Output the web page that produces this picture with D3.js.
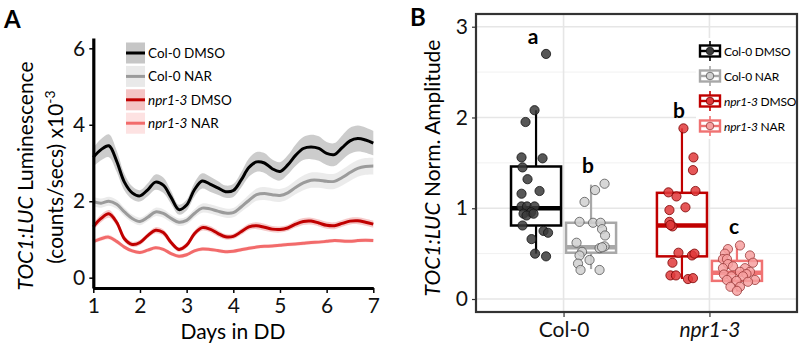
<!DOCTYPE html>
<html>
<head>
<meta charset="utf-8">
<script src="https://cdn.jsdelivr.net/npm/d3@7"></script>
<style>
  body { margin: 0; background: #fff; }
  svg text { font-family: Lato, "Open Sans", sans-serif; }
</style>
</head>
<body>
<svg id="chart" width="800" height="348"></svg>
<script>
// ---------- Panel A data: TOC1:LUC luminescence (x10^-3), sampled every 4 h ----------
const hoursInDD = [24, 28, 32, 36, 40, 44, 48, 52, 56, 60, 64, 68, 72, 76, 80, 84, 88, 92, 96,
  100, 104, 108, 112, 116, 120, 124, 128, 132, 136, 140, 144, 148, 152, 156, 160, 164, 168];

const col0Dmso = [3.15, 3.35, 3.45, 3.05, 2.50, 2.22, 2.14, 2.30, 2.50, 2.42, 2.10, 1.78, 1.90, 2.30, 2.53, 2.45, 2.35, 2.25, 2.28,
  2.55, 2.88, 3.03, 3.00, 2.85, 2.78, 2.95, 3.20, 3.38, 3.42, 3.38, 3.25, 3.22, 3.40, 3.58, 3.64, 3.60, 3.52];
const col0DmsoSe = [0.25, 0.28, 0.30, 0.28, 0.22, 0.17, 0.15, 0.17, 0.20, 0.20, 0.17, 0.13, 0.14, 0.18, 0.20, 0.20, 0.18, 0.16, 0.17,
  0.20, 0.24, 0.26, 0.26, 0.24, 0.24, 0.25, 0.28, 0.30, 0.32, 0.32, 0.30, 0.30, 0.32, 0.34, 0.34, 0.33, 0.32];

const col0Nar = [1.99, 1.95, 2.00, 1.92, 1.72, 1.55, 1.47, 1.58, 1.72, 1.68, 1.55, 1.45, 1.50, 1.68, 1.82, 1.80, 1.74, 1.69, 1.70,
  1.85, 2.02, 2.17, 2.20, 2.17, 2.15, 2.22, 2.36, 2.48, 2.55, 2.55, 2.52, 2.52, 2.62, 2.75, 2.86, 2.91, 2.92];
const col0NarSe = [0.12, 0.12, 0.12, 0.12, 0.11, 0.10, 0.10, 0.10, 0.11, 0.11, 0.10, 0.10, 0.10, 0.11, 0.12, 0.12, 0.12, 0.12, 0.12,
  0.13, 0.15, 0.16, 0.17, 0.17, 0.17, 0.17, 0.18, 0.19, 0.20, 0.20, 0.20, 0.20, 0.21, 0.22, 0.22, 0.22, 0.22];

const npr1Dmso = [1.33, 1.55, 1.67, 1.45, 1.02, 0.87, 0.92, 1.10, 1.24, 1.18, 0.92, 0.74, 0.85, 1.15, 1.31, 1.27, 1.16, 1.07, 1.08,
  1.20, 1.33, 1.36, 1.32, 1.27, 1.26, 1.30, 1.40, 1.47, 1.48, 1.43, 1.37, 1.36, 1.42, 1.48, 1.49, 1.45, 1.40];
const npr1DmsoSe = [0.09, 0.10, 0.10, 0.09, 0.08, 0.07, 0.07, 0.07, 0.08, 0.08, 0.07, 0.06, 0.07, 0.08, 0.08, 0.08, 0.08, 0.07, 0.07,
  0.08, 0.08, 0.09, 0.09, 0.08, 0.08, 0.08, 0.09, 0.09, 0.09, 0.09, 0.09, 0.09, 0.09, 0.09, 0.09, 0.09, 0.09];

const npr1Nar = [0.94, 1.02, 1.06, 0.95, 0.80, 0.70, 0.66, 0.72, 0.78, 0.74, 0.63, 0.56, 0.60, 0.70, 0.75, 0.74, 0.71, 0.68, 0.69,
  0.73, 0.77, 0.80, 0.82, 0.83, 0.85, 0.87, 0.88, 0.90, 0.92, 0.93, 0.95, 0.97, 0.96, 0.95, 0.97, 0.98, 0.97];
const npr1NarSe = [0.06, 0.06, 0.06, 0.06, 0.05, 0.05, 0.05, 0.05, 0.05, 0.05, 0.05, 0.05, 0.05, 0.05, 0.05, 0.05, 0.05, 0.05, 0.05,
  0.05, 0.05, 0.05, 0.05, 0.05, 0.05, 0.05, 0.05, 0.05, 0.05, 0.05, 0.05, 0.05, 0.05, 0.05, 0.05, 0.05, 0.05];

const dayTicks = [1, 2, 3, 4, 5, 6, 7];
const lumTicks = [0, 2, 4, 6];

// ---------- Panel B data: normalised amplitude per seedling ----------
const genotypes = ['Col-0', 'npr1-3'];
const treatments = ['DMSO', 'NAR'];
const ampTicks = [0, 1, 2, 3];

// jitter = horizontal offset, as a fraction of the box width
const col0DmsoAmp = [2.70, 2.08, 1.95, 1.56, 1.55, 1.45, 1.32, 1.16, 1.19, 1.02, 1.02, 1.02, 0.94, 0.955, 0.92, 0.94, 0.81, 0.75, 0.73, 0.66, 0.50, 0.47];
const col0DmsoJit = [0.20, -0.03, -0.21, -0.29, 0.13, -0.27, -0.17, -0.29, 0.07, -0.29, -0.18, -0.03, -0.25, -0.10, -0.19, -0.05, -0.27, 0.15, 0.24, -0.09, -0.02, 0.20];

const col0NarAmp = [1.27, 1.20, 1.07, 0.85, 0.84, 0.84, 0.77, 0.70, 0.62, 0.58, 0.56, 0.57, 0.52, 0.48, 0.43, 0.39, 0.32, 0.32];
const col0NarJit = [0.27, 0.08, -0.13, -0.23, 0.04, 0.19, 0.22, 0.28, -0.29, 0.27, 0.17, 0.22, -0.18, -0.23, -0.03, -0.26, -0.21, 0.17];

const npr1DmsoAmp = [1.88, 1.56, 1.42, 1.175, 1.13, 1.19, 0.98, 1.01, 0.85, 0.80, 0.815, 0.51, 0.48, 0.50, 0.40, 0.26, 0.26, 0.22, 0.23];
const npr1DmsoJit = [0.03, 0.23, 0.22, -0.27, -0.11, 0.27, -0.25, 0.07, -0.25, -0.19, -0.23, -0.07, 0.20, 0.25, -0.19, -0.23, -0.12, 0.12, 0.22];

const npr1NarAmp = [0.59, 0.55, 0.50, 0.48, 0.44, 0.44, 0.385, 0.40, 0.34, 0.36, 0.34, 0.30, 0.30, 0.27, 0.275, 0.25, 0.25, 0.21, 0.21, 0.20, 0.135, 0.135, 0.09, 0.19];
const npr1NarJit = [0.06, -0.18, -0.24, 0.26, -0.28, -0.20, -0.18, 0.32, -0.28, -0.08, 0.16, 0.06, 0.26, -0.26, 0.19, -0.11, 0.12, 0.36, -0.20, -0.01, -0.13, 0.06, 0.00, 0.22];

// box stats: [lower whisker, q1, median, q3, upper whisker]
const col0DmsoBox = [0.50, 0.81, 1.00, 1.46, 2.08];
const col0NarBox = [0.33, 0.51, 0.57, 0.84, 1.26];
const npr1DmsoBox = [0.22, 0.47, 0.81, 1.17, 1.88];
const npr1NarBox = [0.08, 0.20, 0.29, 0.42, 0.59];

// significance letters and the height they sit at (data units)
const sigLetters = ['a', 'b', 'b', 'c'];
const sigHeights = [2.81, 1.39, 1.99, 0.72];

// ---------- styling ----------
const seriesStyle = [
  { label: 'Col-0', treat: 'DMSO', line: '#000000', band: '#c6c6c6', box: '#000000', fill: '#3a3a3a', edge: '#111111' },
  { label: 'Col-0', treat: 'NAR', line: '#9b9b9b', band: '#e9e9e9', box: '#a8a8a8', fill: '#d0d0d0', edge: '#555555' },
  { label: 'npr1-3', treat: 'DMSO', line: '#c00000', band: '#f4c4c4', box: '#c00000', fill: '#e0393b', edge: '#7a0000' },
  { label: 'npr1-3', treat: 'NAR', line: '#f26b6b', band: '#fde2e2', box: '#f07272', fill: '#f7a0a0', edge: '#9a3a3a' }
];

const svg = d3.select('#chart');

// writes "npr1-3" in italics, the rest upright
function legendLabel(t, s) {
  if (s.label === 'npr1-3') {
    t.append('tspan').attr('font-style', 'italic').text('npr1-3');
    t.append('tspan').text(' ' + s.treat);
  } else {
    t.text(s.label + ' ' + s.treat);
  }
}

// ================= Panel A =================
function drawPanelA() {
  const days = hoursInDD.map(h => h / 24);
  const series = [
    { v: col0Dmso, se: col0DmsoSe },
    { v: col0Nar, se: col0NarSe },
    { v: npr1Dmso, se: npr1DmsoSe },
    { v: npr1Nar, se: npr1NarSe }
  ];

  const x = d3.scaleLinear().domain([1, 7]).range([93.3, 373.3]);
  const y = d3.scaleLinear().domain([-0.27, 6.27]).range([288, 38]);

  const g = svg.append('g').attr('class', 'panel-a');

  const area = d3.area()
    .x((d, i) => x(days[i]))
    .y0(d => y(d.v - d.se))
    .y1(d => y(d.v + d.se))
    .curve(d3.curveCatmullRom);

  const line = d3.line()
    .x((d, i) => x(days[i]))
    .y(d => y(d))
    .curve(d3.curveCatmullRom);

  // bands drawn bottom series first so the darker ones sit on top
  [3, 2, 1, 0].forEach(k => {
    const s = series[k];
    g.append('path')
      .datum(s.v.map((v, i) => ({ v: v, se: s.se[i] })))
      .attr('d', area)
      .attr('fill', seriesStyle[k].band)
      .attr('opacity', 0.9);
  });
  [3, 2, 1, 0].forEach(k => {
    g.append('path')
      .datum(series[k].v)
      .attr('d', line)
      .attr('fill', 'none')
      .attr('stroke', seriesStyle[k].line)
      .attr('stroke-width', 3);
  });

  // axes
  const xAxis = d3.axisBottom(x).tickValues(dayTicks).tickFormat(d3.format('d'))
    .tickSize(5).tickSizeOuter(0).tickPadding(4);
  const yAxis = d3.axisLeft(y).tickValues(lumTicks).tickFormat(d3.format('d'))
    .tickSize(4).tickSizeOuter(0).tickPadding(4);

  const xg = g.append('g').attr('transform', `translate(0,${y.range()[0]})`).call(xAxis);
  const yg = g.append('g').attr('transform', `translate(${x.range()[0]},0)`).call(yAxis);

  [xg, yg].forEach(a => {
    a.select('.domain').attr('stroke', '#000').attr('stroke-width', 3.2);
    a.selectAll('.tick line').attr('stroke', '#000').attr('stroke-width', 1.5);
    a.selectAll('.tick text').attr('font-size', 21).attr('fill', '#111');
  });
  xg.selectAll('.tick text').attr('dy', '0.75em');

  g.append('text')
    .attr('x', 233).attr('y', 339)
    .attr('text-anchor', 'middle')
    .attr('font-size', 21)
    .text('Days in DD');

  const yl1 = g.append('text')
    .attr('transform', 'translate(33,176) rotate(-90)')
    .attr('text-anchor', 'middle')
    .attr('font-size', 21);
  yl1.append('tspan').attr('font-style', 'italic').text('TOC1:LUC');
  yl1.append('tspan').text(' Luminescence');

  const yl2 = g.append('text')
    .attr('transform', 'translate(63,177) rotate(-90)')
    .attr('text-anchor', 'middle')
    .attr('font-size', 21);
  yl2.append('tspan').text('(counts/secs) x10');
  yl2.append('tspan').attr('font-size', 14).attr('dy', -8).text('-3');

  // legend
  const leg = g.append('g').attr('transform', 'translate(126,53)');
  seriesStyle.forEach((s, i) => {
    const row = leg.append('g').attr('transform', `translate(0,${i * 23.4})`);
    row.append('rect').attr('x', 0).attr('y', -10.5).attr('width', 19).attr('height', 21).attr('fill', s.band);
    row.append('line').attr('x1', 0).attr('x2', 19).attr('stroke', s.line).attr('stroke-width', 3);
    legendLabel(row.append('text').attr('x', 22).attr('y', 5).attr('font-size', 13.5), s);
  });

  g.append('text').attr('x', 4).attr('y', 28)
    .attr('font-size', 24).attr('font-weight', 'bold').text('A');
}

// ================= Panel B =================
function drawPanelB() {
  const groups = [
    { geno: 'Col-0', treat: 'DMSO', amp: col0DmsoAmp, jit: col0DmsoJit, box: col0DmsoBox },
    { geno: 'Col-0', treat: 'NAR', amp: col0NarAmp, jit: col0NarJit, box: col0NarBox },
    { geno: 'npr1-3', treat: 'DMSO', amp: npr1DmsoAmp, jit: npr1DmsoJit, box: npr1DmsoBox },
    { geno: 'npr1-3', treat: 'NAR', amp: npr1NarAmp, jit: npr1NarJit, box: npr1NarBox }
  ];

  const left = 476, right = 797, top = 14, bottom = 312;

  const x = d3.scalePoint().domain(genotypes).range([left, right]).padding(0.6);
  const dodge = d3.scaleBand().domain(treatments).range([-55, 55]);
  const boxW = dodge.bandwidth() * 0.91;
  const y = d3.scaleLinear().domain([-0.143, 3.14]).range([bottom, top]);
  const centre = grp => x(grp.geno) + dodge(grp.treat) + dodge.bandwidth() / 2;

  const g = svg.append('g').attr('class', 'panel-b');

  // grid lines
  const minor = [0.5, 1.5, 2.5];
  g.selectAll('.minor').data(minor).join('line')
    .attr('x1', left).attr('x2', right)
    .attr('y1', d => y(d)).attr('y2', d => y(d))
    .attr('stroke', '#f1f1f1').attr('stroke-width', 1);
  g.selectAll('.major').data(ampTicks).join('line')
    .attr('x1', left).attr('x2', right)
    .attr('y1', d => y(d)).attr('y2', d => y(d))
    .attr('stroke', '#e6e6e6').attr('stroke-width', 1.6);
  g.selectAll('.vgrid').data(genotypes).join('line')
    .attr('x1', d => x(d)).attr('x2', d => x(d))
    .attr('y1', top).attr('y2', bottom)
    .attr('stroke', '#e6e6e6').attr('stroke-width', 1.6);

  // boxes
  groups.forEach((grp, k) => {
    const st = seriesStyle[k];
    const cx = centre(grp);
    const [lo, q1, med, q3, hi] = grp.box;
    const bg = g.append('g');
    bg.append('line').attr('x1', cx).attr('x2', cx).attr('y1', y(q3)).attr('y2', y(hi))
      .attr('stroke', st.box).attr('stroke-width', 2.2);
    bg.append('line').attr('x1', cx).attr('x2', cx).attr('y1', y(q1)).attr('y2', y(lo))
      .attr('stroke', st.box).attr('stroke-width', 2.2);
    bg.append('rect').attr('x', cx - boxW / 2).attr('y', y(q3))
      .attr('width', boxW).attr('height', y(q1) - y(q3))
      .attr('fill', 'none').attr('stroke', st.box).attr('stroke-width', 2.5);
    bg.append('line').attr('x1', cx - boxW / 2).attr('x2', cx + boxW / 2)
      .attr('y1', y(med)).attr('y2', y(med))
      .attr('stroke', st.box).attr('stroke-width', 4.5);
  });

  // jittered points
  groups.forEach((grp, k) => {
    const st = seriesStyle[k];
    const cx = centre(grp);
    g.append('g').selectAll('circle')
      .data(grp.amp.map((v, i) => ({ v: v, j: grp.jit[i] })))
      .join('circle')
      .attr('cx', d => cx + d.j * boxW)
      .attr('cy', d => y(d.v))
      .attr('r', 4.6)
      .attr('fill', st.fill)
      .attr('fill-opacity', 0.85)
      .attr('stroke', st.edge)
      .attr('stroke-width', 0.8);
  });

  // significance letters
  groups.forEach((grp, k) => {
    g.append('text')
      .attr('x', centre(grp) - 3).attr('y', y(sigHeights[k]))
      .attr('text-anchor', 'middle')
      .attr('font-size', 21).attr('font-weight', 'bold')
      .text(sigLetters[k]);
  });

  // legend with white background
  const leg = g.append('g');
  leg.append('rect').attr('x', 696).attr('y', 38).attr('width', 100).attr('height', 101).attr('fill', '#fff');
  seriesStyle.forEach((s, i) => {
    const ry = 51 + i * 25;
    const kx = 710;
    const row = leg.append('g');
    row.append('line').attr('x1', kx).attr('x2', kx).attr('y1', ry - 10).attr('y2', ry + 10)
      .attr('stroke', s.box).attr('stroke-width', 1.6);
    row.append('rect').attr('x', kx - 10).attr('y', ry - 5.5).attr('width', 20).attr('height', 11)
      .attr('fill', '#fff').attr('stroke', s.box).attr('stroke-width', 2.4);
    row.append('line').attr('x1', kx - 10).attr('x2', kx + 10).attr('y1', ry).attr('y2', ry)
      .attr('stroke', s.box).attr('stroke-width', 2.4);
    row.append('circle').attr('cx', kx).attr('cy', ry).attr('r', 3.8)
      .attr('fill', s.fill).attr('stroke', s.edge).attr('stroke-width', 0.8);
    legendLabel(row.append('text').attr('x', 724).attr('y', ry + 4.5)
      .attr('font-size', 12).attr('letter-spacing', -0.2), s);
  });

  // panel border
  g.append('rect').attr('x', left).attr('y', top)
    .attr('width', right - left).attr('height', bottom - top)
    .attr('fill', 'none').attr('stroke', '#333').attr('stroke-width', 2.2);

  // axes
  const yAxis = d3.axisLeft(y).tickValues(ampTicks).tickFormat(d3.format('d')).tickSize(4).tickPadding(4);
  const xAxis = d3.axisBottom(x).tickSize(5).tickPadding(4);
  const yg = g.append('g').attr('transform', `translate(${left},0)`).call(yAxis);
  const xg = g.append('g').attr('transform', `translate(0,${bottom})`).call(xAxis);
  [xg, yg].forEach(a => {
    a.select('.domain').remove();
    a.selectAll('.tick line').attr('stroke', '#333').attr('stroke-width', 1.2);
    a.selectAll('.tick text').attr('font-size', 21).attr('fill', '#111');
  });
  xg.selectAll('.tick text').attr('dy', '0.75em')
    .attr('font-style', d => d === 'npr1-3' ? 'italic' : 'normal');

  const yl = g.append('text')
    .attr('transform', 'translate(440,168) rotate(-90)')
    .attr('text-anchor', 'middle')
    .attr('font-size', 21);
  yl.append('tspan').attr('font-style', 'italic').text('TOC1:LUC');
  yl.append('tspan').text(' Norm. Amplitude');

  g.append('text').attr('x', 410).attr('y', 26)
    .attr('font-size', 24).attr('font-weight', 'bold').text('B');
}

drawPanelA();
drawPanelB();
</script>
</body>
</html>
